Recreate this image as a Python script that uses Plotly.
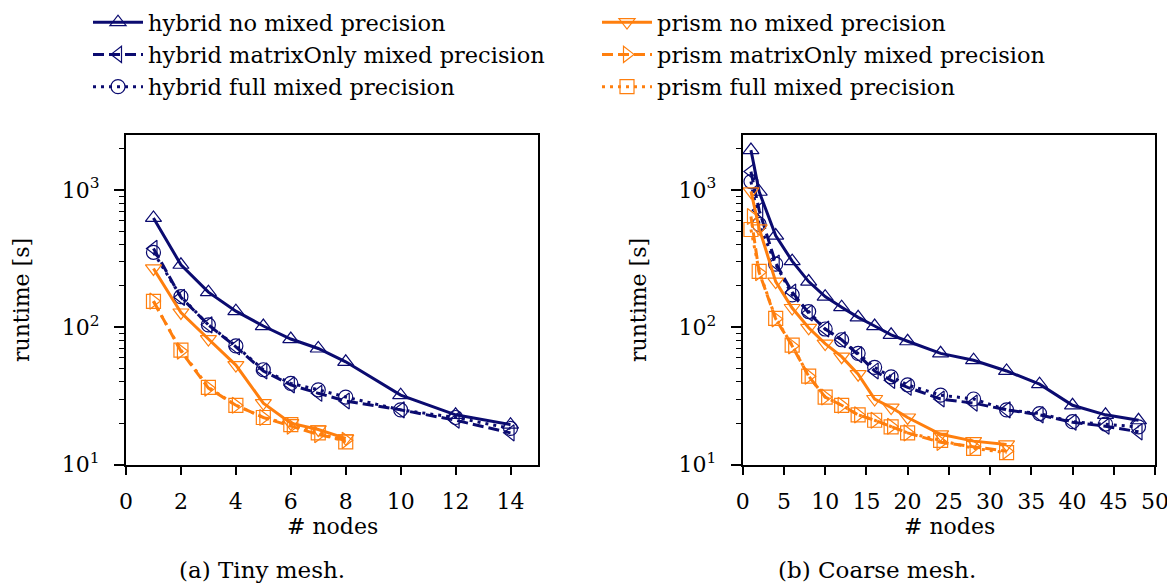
import plotly.graph_objects as go

# ---------------- data ----------------
# (a) Tiny mesh
x_hybrid_tiny = [1, 2, 3, 4, 5, 6, 7, 8, 10, 12, 14]
hybrid_no_tiny = [625, 285, 180, 131, 102, 82, 70, 56, 32, 23, 19.5]
hybrid_mat_tiny = [375, 165, 104, 72, 48, 38, 33, 29, 25, 21, 17]
hybrid_full_tiny = [351, 167, 104, 73, 49, 39, 35, 31, 25, 22, 18.3]

x_prism_tiny = [1, 2, 3, 4, 5, 6, 7, 8]
prism_no_tiny = [268, 128, 82, 53, 28, 20, 18, 15.5]
prism_mat_tiny = [155, 67, 36, 27, 22, 19, 16.5, 15]
prism_full_tiny = [154, 68, 36.5, 27, 22, 19.5, 17, 14.6]

# (b) Coarse mesh
x_hybrid_coarse = [1, 2, 4, 6, 8, 10, 12, 14, 16, 18, 20, 24, 28, 32, 36, 40, 44, 48]
hybrid_no_coarse = [1950, 970, 465, 303, 215, 167, 140, 118, 102, 88, 79, 64.5, 57.5, 48, 38.5, 27, 23, 21]
hybrid_mat_coarse = [1360, 710, 293, 180, 127, 97, 81, 63, 48, 41, 36.5, 30, 28, 25, 23, 20.3, 19, 17.3]
hybrid_full_coarse = [1150, 560, 288, 172, 130, 97, 81, 64.5, 51, 43.5, 38, 32, 30, 25, 23.5, 20.5, 19.7, 18.8]

x_prism_coarse = [1, 2, 4, 6, 8, 10, 12, 14, 16, 18, 20, 24, 28, 32]
prism_no_coarse = [975, 525, 215, 138, 99, 76, 61, 45.5, 30, 26, 22, 16.6, 14.8, 14]
prism_mat_coarse = [640, 250, 115, 73, 44, 31, 27, 23, 21, 19, 17, 14.5, 13.5, 12.5]
prism_full_coarse = [515, 255, 116, 74, 44, 31, 27, 23, 21, 18.8, 17, 15, 13.1, 12.2]

series_names = [
    "hybrid no mixed precision",
    "hybrid matrixOnly mixed precision",
    "hybrid full mixed precision",
    "prism no mixed precision",
    "prism matrixOnly mixed precision",
    "prism full mixed precision",
]
y_tick_vals = [10, 100, 1000]
y_tick_text = ["10<sup>1</sup>", "10<sup>2</sup>", "10<sup>3</sup>"]
x_ticks_tiny = [0, 2, 4, 6, 8, 10, 12, 14]
x_ticks_coarse = [0, 5, 10, 15, 20, 25, 30, 35, 40, 45, 50]
captions = ["(a) Tiny mesh.", "(b) Coarse mesh."]

# ---------------- styles ----------------
NAVY = "#0b0b70"
ORANGE = "#ff7f0e"
FONT = "DejaVu Serif"
OFF = 8                      # page body margin of the html page
W, H = 1175 - OFF, 586 - OFF

styles = [
    dict(color=NAVY, symbol="triangle-up-open", dash="solid", legend="legend"),
    dict(color=NAVY, symbol="triangle-left-open", dash="11px,5px", legend="legend"),
    dict(color=NAVY, symbol="circle-open", dash="3px,5px", legend="legend"),
    dict(color=ORANGE, symbol="triangle-down-open", dash="solid", legend="legend2"),
    dict(color=ORANGE, symbol="triangle-right-open", dash="11px,5px", legend="legend2"),
    dict(color=ORANGE, symbol="square-open", dash="3px,5px", legend="legend2"),
]

tiny = [
    (x_hybrid_tiny, hybrid_no_tiny),
    (x_hybrid_tiny, hybrid_mat_tiny),
    (x_hybrid_tiny, hybrid_full_tiny),
    (x_prism_tiny, prism_no_tiny),
    (x_prism_tiny, prism_mat_tiny),
    (x_prism_tiny, prism_full_tiny),
]
coarse = [
    (x_hybrid_coarse, hybrid_no_coarse),
    (x_hybrid_coarse, hybrid_mat_coarse),
    (x_hybrid_coarse, hybrid_full_coarse),
    (x_prism_coarse, prism_no_coarse),
    (x_prism_coarse, prism_mat_coarse),
    (x_prism_coarse, prism_full_coarse),
]

fig = go.Figure()
for panel, (data, xa, ya) in enumerate([(tiny, "x", "y"), (coarse, "x2", "y2")]):
    for i, (xs, ys) in enumerate(data):
        st = styles[i]
        fig.add_trace(go.Scatter(
            x=xs, y=ys, xaxis=xa, yaxis=ya, mode="lines+markers",
            name=series_names[i], legend=st["legend"],
            showlegend=(panel == 0),
            line=dict(color=st["color"], width=3, dash=st["dash"]),
            marker=dict(symbol=st["symbol"], size=14, color=st["color"],
                        line=dict(width=1.2, color=st["color"])),
        ))

px = lambda v: (v - OFF) / W
py = lambda v: 1 - (v - OFF) / H

minor_vals = ([v for v in range(20, 100, 10)] + [v for v in range(200, 1000, 100)]
              + [2000])

axis_common = dict(showline=True, linecolor="black", linewidth=2, mirror=True,
                   ticks="outside", tickcolor="black", tickwidth=1.5,
                   showgrid=False, zeroline=False, automargin=False,
                   tickfont=dict(family=FONT, size=22, color="black"))

yaxis_common = dict(axis_common, type="log", range=[1, 3.40],
                    tickvals=y_tick_vals, ticktext=y_tick_text, ticklen=10,
                    ticklabelstandoff=10,
                    minor=dict(tickvals=minor_vals, ticks="outside", ticklen=5,
                               tickwidth=1.2, tickcolor="black", showgrid=False))

legend_common = dict(xanchor="left", yanchor="top", bgcolor="rgba(0,0,0,0)",
                     itemwidth=50, tracegroupgap=0,
                     font=dict(family=FONT, size=22.5, color="black"))

fig.update_layout(
    width=W, height=H,
    margin=dict(l=0, r=0, t=0, b=0, autoexpand=False),
    paper_bgcolor="white", plot_bgcolor="white",
    font=dict(family=FONT, size=22, color="black"),
    xaxis=dict(axis_common, domain=[px(126), px(538)], range=[0, 15],
               tickvals=x_ticks_tiny, ticklen=8, ticklabelstandoff=8, anchor="y"),
    yaxis=dict(yaxis_common, domain=[py(464.5), py(135)], anchor="x"),
    xaxis2=dict(axis_common, domain=[px(742.7), px(1155)], range=[0, 50],
                tickvals=x_ticks_coarse, ticklen=8, ticklabelstandoff=8, anchor="y2"),
    yaxis2=dict(yaxis_common, domain=[py(464.5), py(135)], anchor="x2"),
    legend=dict(legend_common, x=px(88), y=py(1)),
    legend2=dict(legend_common, x=px(597), y=py(1)),
)

annos = [
    dict(text="runtime [s]", x=px(21), y=py(300), textangle=-90, size=22),
    dict(text="runtime [s]", x=px(638), y=py(300), textangle=-90, size=22),
    dict(text="# nodes", x=px(332), y=py(526), size=22),
    dict(text="# nodes", x=px(949), y=py(526), size=22),
    dict(text=captions[0], x=px(262), y=py(570), size=23),
    dict(text=captions[1], x=px(877), y=py(570), size=23),
]
for a in annos:
    sz = a.pop("size")
    fig.add_annotation(xref="paper", yref="paper", showarrow=False,
                       xanchor="center", yanchor="middle",
                       font=dict(family=FONT, size=sz, color="black"), **a)

fig.write_html("out.html")
